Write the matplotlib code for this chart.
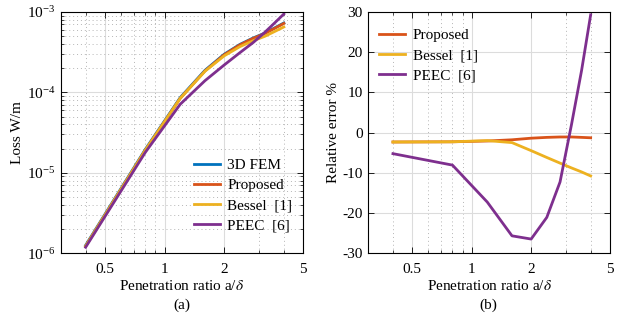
import matplotlib
matplotlib.use("Agg")
import matplotlib.pyplot as plt
from matplotlib.ticker import FixedLocator, NullFormatter, FixedFormatter, LogLocator

plt.rcParams['font.family'] = ['Liberation Serif', 'DejaVu Serif']
plt.rcParams['mathtext.fontset'] = 'stix'
plt.rcParams['font.size'] = 11
plt.rcParams['axes.unicode_minus'] = False

# penetration ratio a/delta
ratio = [0.4, 0.8, 1.2, 1.6, 2.0, 2.4, 2.8, 3.2, 3.6, 4.0]

# loss in W/m
loss_fem = [1.25e-6, 1.95e-5, 8.6e-5, 1.88e-4, 2.98e-4, 3.95e-4, 4.75e-4, 5.45e-4, 6.35e-4, 7.3e-4]
loss_proposed = [1.221e-6, 1.905e-5, 8.42e-5, 1.846e-4, 2.938e-4, 3.903e-4, 4.698e-4, 5.39e-4, 6.274e-4, 7.205e-4]
loss_bessel = [1.221e-6, 1.905e-5, 8.43e-5, 1.833e-4, 2.846e-4, 3.705e-4, 4.389e-4, 4.97e-4, 5.728e-4, 6.512e-4]
loss_peec = [1.184e-6, 1.792e-5, 7.11e-5, 1.397e-4, 2.19e-4, 3.117e-4, 4.166e-4, 5.559e-4, 7.334e-4, 9.439e-4]

# relative error in %
err_proposed = [-2.35, -2.3, -2.1, -1.8, -1.4, -1.2, -1.1, -1.1, -1.2, -1.3]
err_bessel = [-2.35, -2.3, -2.0, -2.5, -4.5, -6.2, -7.6, -8.8, -9.8, -10.8]
err_peec = [-5.25, -8.1, -17.3, -25.7, -26.5, -21.1, -12.3, 2.0, 15.5, 29.3]

c_blue = (0.0, 0.447, 0.741)
c_orange = (0.85, 0.325, 0.098)
c_yellow = (0.929, 0.694, 0.125)
c_purple = (0.494, 0.184, 0.556)

x_major = [0.5, 1, 2, 5]
x_minor = [0.3, 0.4, 0.6, 0.7, 0.8, 0.9, 3, 4]

fig = plt.figure(figsize=(6.21, 3.2), dpi=100)
ax1 = fig.add_axes([0.098, 0.209, 0.39, 0.7535])
ax2 = fig.add_axes([0.593, 0.209, 0.389, 0.7535])


def style_x(ax):
    ax.set_xscale('log')
    ax.set_xlim(0.3, 5)
    ax.xaxis.set_major_locator(FixedLocator(x_major))
    ax.xaxis.set_major_formatter(FixedFormatter(['0.5', '1', '2', '5']))
    ax.xaxis.set_minor_locator(FixedLocator(x_minor))
    ax.xaxis.set_minor_formatter(NullFormatter())
    ax.tick_params(which='both', direction='in', top=True, right=True, labelsize=11)
    ax.tick_params(which='major', length=4, width=0.6)
    ax.tick_params(which='minor', length=2, width=0.5)
    ax.tick_params(axis='x', which='major', pad=7)
    ax.tick_params(axis='y', which='major', pad=4)
    ax.grid(which='major', color='#dcdcdc', lw=0.8, ls='-')
    ax.grid(which='minor', axis='x', color='#b5b5b5', lw=0.7, ls=(0, (1, 3)))
    ax.set_axisbelow(True)
    for s in ax.spines.values():
        s.set_linewidth(0.8)
    ax.set_xlabel(r'Penetration ratio a/$\delta$', fontsize=11, labelpad=2)


lw = 2.0
ax1.plot(ratio, loss_fem, color=c_blue, lw=lw, label='3D FEM')
ax1.plot(ratio, loss_proposed, color=c_orange, lw=lw, label='Proposed')
ax1.plot(ratio, loss_bessel, color=c_yellow, lw=lw, label='Bessel  [1]')
ax1.plot(ratio, loss_peec, color=c_purple, lw=lw, label='PEEC  [6]')
style_x(ax1)
ax1.set_yscale('log')
ax1.set_ylim(1e-6, 1e-3)
ax1.yaxis.set_major_locator(FixedLocator([1e-6, 1e-5, 1e-4, 1e-3]))
ax1.yaxis.set_minor_locator(LogLocator(base=10, subs=range(2, 10)))
ax1.yaxis.set_minor_formatter(NullFormatter())
ax1.grid(which='minor', axis='y', color='#b5b5b5', lw=0.7, ls=(0, (1, 3)))
ax1.set_ylabel('Loss W/m', fontsize=11, labelpad=2)
ax1.legend(loc='lower right', bbox_to_anchor=(1.0, 0.042), frameon=False, fontsize=11,
           handlelength=1.7, handletextpad=0.5, labelspacing=0.42, borderaxespad=0.3)

ax2.plot(ratio, err_proposed, color=c_orange, lw=lw, label='Proposed')
ax2.plot(ratio, err_bessel, color=c_yellow, lw=lw, label='Bessel  [1]')
ax2.plot(ratio, err_peec, color=c_purple, lw=lw, label='PEEC  [6]')
style_x(ax2)
ax2.set_ylim(-30, 30)
ax2.set_yticks([-30, -20, -10, 0, 10, 20, 30])
ax2.set_ylabel('Relative error %', fontsize=11, labelpad=2)
ax2.legend(loc='upper left', bbox_to_anchor=(0.0, 0.975), frameon=False, fontsize=11,
           handlelength=1.7, handletextpad=0.5, labelspacing=0.42, borderaxespad=0.3)

fig.text(0.293, 0.047, '(a)', ha='center', va='center', fontsize=11)
fig.text(0.787, 0.047, '(b)', ha='center', va='center', fontsize=11)

fig.savefig('out.png', dpi=100)
